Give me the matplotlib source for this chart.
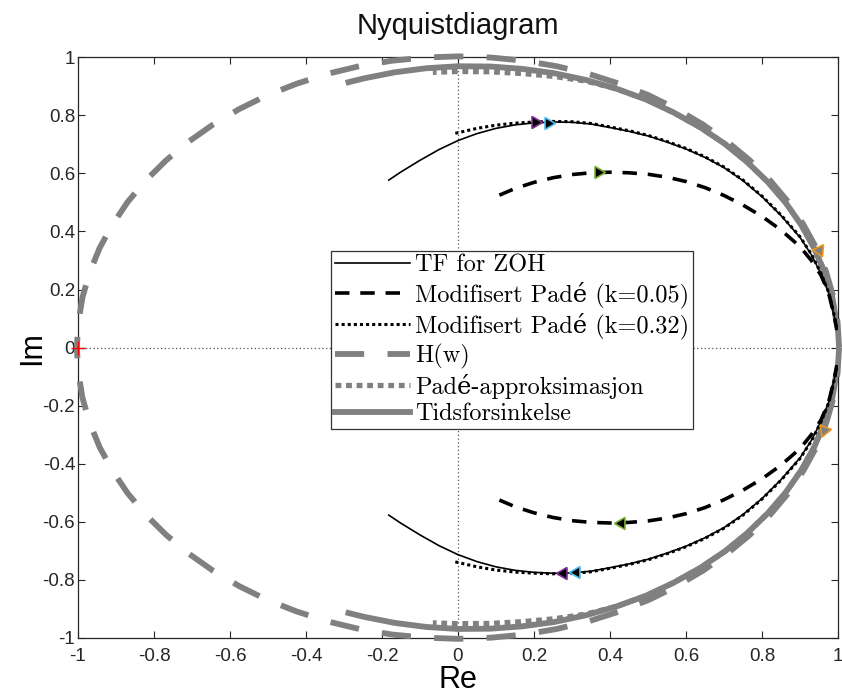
import numpy as np
import matplotlib
matplotlib.use("Agg")
import matplotlib.pyplot as plt

plt.rcParams['font.family'] = ['Liberation Sans', 'DejaVu Sans']

# øvre gren (positive frekvenser), nedre gren er kompleks konjugert
zoh_re = [-0.182, -0.15, -0.10, -0.05, 0.0, 0.05, 0.10, 0.15, 0.20, 0.25, 0.30, 0.35, 0.40,
          0.45, 0.50, 0.55, 0.60, 0.65, 0.70, 0.75, 0.80, 0.85, 0.90, 0.93, 0.955, 0.975, 0.99, 0.997]
zoh_im = [0.577, 0.605, 0.645, 0.682, 0.713, 0.737, 0.755, 0.767, 0.774, 0.777, 0.776, 0.770, 0.758,
          0.745, 0.729, 0.708, 0.684, 0.655, 0.620, 0.575, 0.520, 0.455, 0.380, 0.320, 0.255, 0.190, 0.110, 0.065]

k005_re = [0.109, 0.15, 0.20, 0.25, 0.30, 0.35, 0.40, 0.45, 0.50, 0.55, 0.60, 0.65, 0.70,
           0.75, 0.80, 0.85, 0.90, 0.93, 0.955, 0.975, 0.99, 0.997]
k005_im = [0.525, 0.548, 0.569, 0.585, 0.596, 0.602, 0.604, 0.602, 0.597, 0.587, 0.572, 0.551, 0.524,
           0.491, 0.452, 0.405, 0.348, 0.300, 0.250, 0.190, 0.110, 0.060]

k032_re = [-0.007, 0.05, 0.10, 0.15, 0.20, 0.25, 0.30, 0.35, 0.40, 0.45, 0.50, 0.55, 0.60,
           0.65, 0.70, 0.75, 0.80, 0.85, 0.90, 0.93, 0.955, 0.975, 0.99, 0.997]
k032_im = [0.738, 0.755, 0.766, 0.773, 0.777, 0.779, 0.778, 0.772, 0.760, 0.747, 0.731, 0.710,
           0.686, 0.657, 0.622, 0.577, 0.522, 0.457, 0.382, 0.322, 0.257, 0.192, 0.112, 0.065]

hw_re = [1.003, 0.999, 0.988, 0.969, 0.943, 0.909, 0.869, 0.822, 0.768, 0.709, 0.645, 0.575, 0.502,
         0.424, 0.343, 0.260, 0.174, 0.087, 0.0, -0.087, -0.174, -0.260, -0.343, -0.424, -0.502,
         -0.575, -0.645, -0.709, -0.768, -0.822, -0.869, -0.909, -0.943, -0.969, -0.988, -0.999, -1.003]
hw_im = [0.0, 0.087, 0.174, 0.260, 0.343, 0.424, 0.502, 0.575, 0.645, 0.709, 0.768, 0.822, 0.869,
         0.909, 0.943, 0.969, 0.988, 0.999, 1.003, 0.999, 0.988, 0.969, 0.943, 0.909, 0.869,
         0.822, 0.768, 0.709, 0.645, 0.575, 0.502, 0.424, 0.343, 0.260, 0.174, 0.087, 0.0]

pade_re = [0.995, 0.985, 0.965, 0.938, 0.904, 0.863, 0.815, 0.761, 0.702, 0.637, 0.567, 0.494,
           0.416, 0.336, 0.253, 0.169, 0.085, 0.0, -0.066]
pade_im = [0.096, 0.174, 0.259, 0.341, 0.421, 0.498, 0.571, 0.639, 0.702, 0.759, 0.810, 0.855,
           0.892, 0.918, 0.934, 0.944, 0.950, 0.951, 0.948]

tid_re = [0.995, 0.985, 0.965, 0.938, 0.904, 0.863, 0.815, 0.761, 0.702, 0.637, 0.567, 0.494,
          0.416, 0.336, 0.253, 0.169, 0.085, 0.0, -0.084, -0.167, -0.248, -0.288]
tid_im = [0.096, 0.174, 0.259, 0.341, 0.421, 0.498, 0.571, 0.639, 0.702, 0.759, 0.810, 0.855,
          0.892, 0.922, 0.945, 0.960, 0.968, 0.969, 0.962, 0.948, 0.927, 0.914]

# pilmarkører langs kurvene
pil_re = [0.203, 0.238, 0.369, 0.951, 0.962, 0.429, 0.277, 0.311]
pil_im = [0.776, 0.773, 0.604, 0.336, -0.284, -0.604, -0.776, -0.773]
pil_vinkel = [0, 0, 0, -65, -111, 180, 180, 180]
pil_kant = ['#7E2F8E', '#4DBEEE', '#77AC30', '#E8961E', '#E8961E', '#77AC30', '#7E2F8E', '#4DBEEE']
pil_fyll = ['k', 'k', 'k', '#808080', '#808080', 'k', 'k', 'k']

labels = ['TF for ZOH', 'Modifisert Padé (k=0.05)', 'Modifisert Padé (k=0.32)',
          'H(w)', 'Padé-approksimasjon', 'Tidsforsinkelse']

ticks = [-1, -0.8, -0.6, -0.4, -0.2, 0, 0.2, 0.4, 0.6, 0.8, 1]
tick_labels = ['-1', '-0.8', '-0.6', '-0.4', '-0.2', '0', '0.2', '0.4', '0.6', '0.8', '1']


def gren(re, im):
    # begge grener som én kurve (øvre + speilet nedre)
    re = np.asarray(re)
    im = np.asarray(im)
    return (np.concatenate([re, [np.nan], re]),
            np.concatenate([im, [np.nan], -im]))


fig = plt.figure(figsize=(8.42, 6.98), dpi=100)
ax = fig.add_axes([0.0926, 0.086, 0.9026, 0.832])

grey = '#808080'
x, y = gren(zoh_re, zoh_im)
l1, = ax.plot(x, y, color='k', lw=1.2, zorder=5)
x, y = gren(k005_re, k005_im)
l2, = ax.plot(x, y, color='k', lw=2.6, dashes=(4, 3), zorder=5)
x, y = gren(k032_re, k032_im)
l3, = ax.plot(x, y, color='k', lw=2.2, dashes=(1, 1), zorder=5)
x, y = gren(hw_re, hw_im)
l4, = ax.plot(x, y, color=grey, lw=4.2, dashes=(5, 4), zorder=3, clip_on=False)
x, y = gren(pade_re, pade_im)
l5, = ax.plot(x, y, color=grey, lw=3.8, dashes=(1.1, 0.9), zorder=3)
x, y = gren(tid_re, tid_im)
l6, = ax.plot(x, y, color=grey, lw=4.2, zorder=2)

# akselinjer gjennom origo og kritisk punkt
ax.axhline(0, color='#555555', lw=0.9, ls=(0, (1, 2)), zorder=1)
ax.axvline(0, color='#555555', lw=0.9, ls=(0, (1, 2)), zorder=1)
ax.plot([-1], [0], marker='+', color='r', ms=10, mew=1.0, zorder=6, clip_on=False)

for re, im, ang, ec, fc in zip(pil_re, pil_im, pil_vinkel, pil_kant, pil_fyll):
    ax.plot([re], [im], marker=(3, 0, ang - 90), ms=10, mfc=fc, mec=ec, mew=1.2,
            ls='none', zorder=7, clip_on=False)

ax.set_xlim(-1, 1)
ax.set_ylim(-1, 1)
ax.set_xticks(ticks)
ax.set_xticklabels(tick_labels)
ax.set_yticks(ticks)
ax.set_yticklabels(tick_labels)
ax.tick_params(direction='in', length=5, width=0.8, labelsize=13.5,
               top=True, right=True, colors='#262626')
ax.tick_params(axis='x', pad=7)
ax.tick_params(axis='y', pad=2)
for s in ax.spines.values():
    s.set_linewidth(0.9)
    s.set_color('#262626')

ax.set_title('Nyquistdiagram', fontsize=21, pad=17, color='#111111')
ax.set_xlabel('Re', fontsize=22, labelpad=0)
ax.set_ylabel('Im', fontsize=22, labelpad=-3)

leg = ax.legend([l1, l2, l3, l4, l5, l6], labels, loc='center',
                bbox_to_anchor=(0.571, 0.513),
                prop={'family': ['cmr10', 'DejaVu Serif'], 'size': 17.5},
                handlelength=3.1, handletextpad=0.2, labelspacing=0.19,
                borderpad=0.15, borderaxespad=0, fancybox=False,
                framealpha=1, edgecolor='#333333')
leg.get_frame().set_linewidth(0.9)
leg.set_zorder(10)

fig.savefig('out.png', dpi=100)
